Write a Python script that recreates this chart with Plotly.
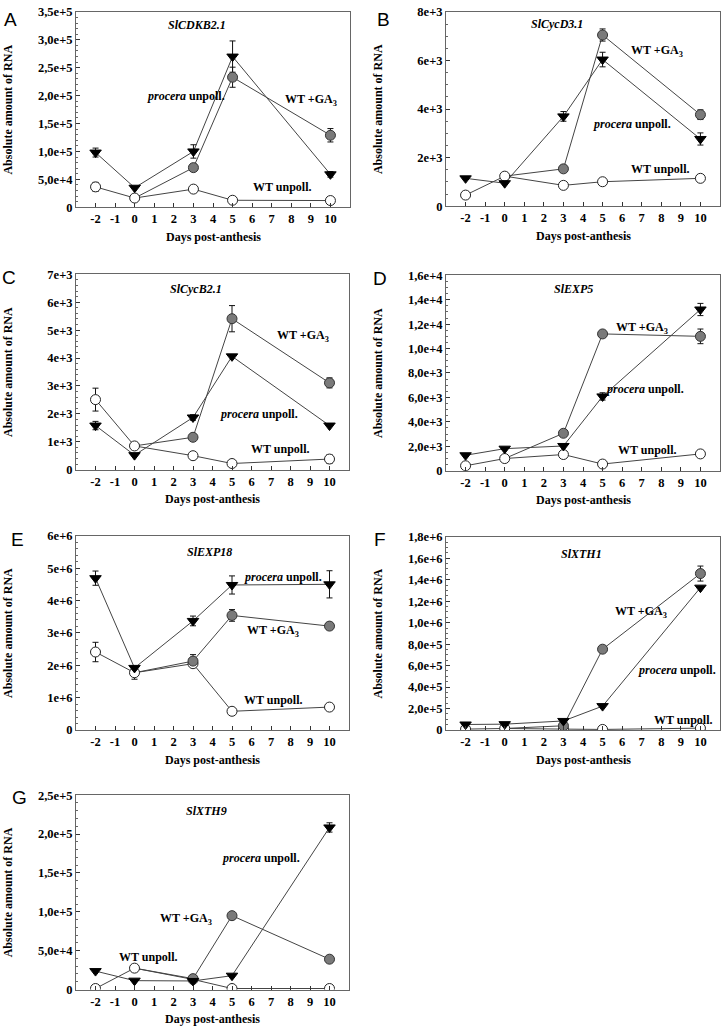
import plotly.graph_objects as go

W, H = 722, 1034

days = [-2, 0, 3, 5, 10]
x_ticks = list(range(-2, 11))
x_ticktext = [str(v) for v in x_ticks]

# ---- Panel data (procera unpoll., WT +GA3, WT unpoll.) ----
A_proc = [9.8e4, 3.5e4, 1.0e5, 2.70e5, 5.9e4]
A_proc_err = [8e3, None, 1.2e4, 2.8e4, 5e3]
A_ga3 = [None, 1.65e4, 7.1e4, 2.33e5, 1.29e5]
A_ga3_err = [None, None, 6e3, 1.8e4, 1.2e4]
A_wt = [3.65e4, 1.65e4, 3.25e4, 1.25e4, 1.2e4]
A_wt_err = [8e3, None, None, None, None]
A_yticks = [0, 5e4, 1e5, 1.5e5, 2e5, 2.5e5, 3e5, 3.5e5]
A_ytext = ["0", "5,0e+4", "1,0e+5", "1,5e+5", "2,0e+5", "2,5e+5", "3,0e+5", "3,5e+5"]

B_proc = [1.15e3, 0.95e3, 3.70e3, 6.04e3, 2.77e3]
B_proc_err = [None, None, 2e2, 3e2, 2.5e2]
B_ga3 = [None, 1.24e3, 1.54e3, 7.05e3, 3.77e3]
B_ga3_err = [None, None, None, 2.5e2, 2e2]
B_wt = [0.46e3, 1.24e3, 0.86e3, 1.01e3, 1.15e3]
B_wt_err = [None, None, None, None, 1.2e2]
B_yticks = [0, 2e3, 4e3, 6e3, 8e3]
B_ytext = ["0", "2e+3", "4e+3", "6e+3", "8e+3"]

C_proc = [1.58e3, 0.52e3, 1.87e3, 4.06e3, 1.58e3]
C_proc_err = [1.5e2, None, 1e2, None, None]
C_ga3 = [None, 0.85e3, 1.16e3, 5.41e3, 3.11e3]
C_ga3_err = [None, None, 1e2, 4.7e2, 1.8e2]
C_wt = [2.51e3, 0.85e3, 0.50e3, 0.22e3, 0.38e3]
C_wt_err = [4.1e2, None, 1.2e2, None, 1.5e2]
C_yticks = [0, 1e3, 2e3, 3e3, 4e3, 5e3, 6e3, 7e3]
C_ytext = ["0", "1e+3", "2e+3", "3e+3", "4e+3", "5e+3", "6e+3", "7e+3"]

D_proc = [1.26e3, 1.80e3, 2.02e3, 6.08e3, 13.2e3]
D_proc_err = [None, None, None, 3e2, 5e2]
D_ga3 = [None, 0.99e3, 3.06e3, 11.2e3, 11.0e3]
D_ga3_err = [None, None, None, None, 6e2]
D_wt = [0.40e3, 0.99e3, 1.32e3, 0.54e3, 1.37e3]
D_wt_err = [None, None, None, None, None]
D_yticks = [0, 2e3, 4e3, 6e3, 8e3, 1e4, 1.2e4, 1.4e4, 1.6e4]
D_ytext = ["0", "2,0e+3", "4,0e+3", "6,0e+3", "8,0e+3", "1,0e+4", "1,2e+4", "1,4e+4", "1,6e+4"]

E_proc = [4.69e6, 1.92e6, 3.37e6, 4.48e6, 4.50e6]
E_proc_err = [2.2e5, None, 1.5e5, 2.8e5, 4.2e5]
E_ga3 = [None, 1.77e6, 2.13e6, 3.54e6, 3.21e6]
E_ga3_err = [None, None, 2e5, 1.8e5, None]
E_wt = [2.41e6, 1.77e6, 2.05e6, 0.58e6, 0.71e6]
E_wt_err = [3e5, 2e5, None, None, None]
E_yticks = [0, 1e6, 2e6, 3e6, 4e6, 5e6, 6e6]
E_ytext = ["0", "1e+6", "2e+6", "3e+6", "4e+6", "5e+6", "6e+6"]

F_proc = [5.2e4, 5.5e4, 8.5e4, 2.23e5, 1.326e6]
F_proc_err = [None, None, None, None, None]
F_ga3 = [None, 1.5e4, 4.0e4, 7.53e5, 1.457e6]
F_ga3_err = [None, None, None, None, 7e4]
F_wt = [9e3, 1.5e4, 9e3, 6e3, 1.8e4]
F_wt_err = [None, None, None, None, None]
F_yticks = [0, 2e5, 4e5, 6e5, 8e5, 1e6, 1.2e6, 1.4e6, 1.6e6, 1.8e6]
F_ytext = ["0", "2,0e+5", "4,0e+5", "6,0e+5", "8,0e+5", "1,0e+6", "1,2e+6", "1,4e+6", "1,6e+6", "1,8e+6"]

G_proc = [2.37e4, 1.14e4, 1.10e4, 1.78e4, 2.085e5]
G_proc_err = [None, None, None, None, 6e3]
G_ga3 = [None, 2.75e4, 1.4e4, 9.5e4, 3.9e4]
G_ga3_err = [None, None, None, None, None]
G_wt = [1.3e3, 2.75e4, 1.3e4, 1.3e3, 1.3e3]
G_wt_err = [None, None, None, None, None]
G_yticks = [0, 5e4, 1e5, 1.5e5, 2e5, 2.5e5]
G_ytext = ["0", "5,0e+4", "1,0e+5", "1,5e+5", "2,0e+5", "2,5e+5"]

genes = ["SlCDKB2.1", "SlCycD3.1", "SlCycB2.1", "SlEXP5", "SlEXP18", "SlXTH1", "SlXTH9"]
letters = ["A", "B", "C", "D", "E", "F", "G"]

# ---- layout geometry (pixels) ----
panels = [
    dict(L=76, R=350, T=5, B=203, data=(A_proc, A_proc_err, A_ga3, A_ga3_err, A_wt, A_wt_err),
         yt=(A_yticks, A_ytext), minor=1e4, letter=(10, 13),
         lab=dict(gene=(3.2, 3.26e5), proc=(2.6, 2.0e5), ga3=(9.0, 1.92e5), wt=(7.5, 0.36e5))),
    dict(L=446, R=720, T=5, B=202, data=(B_proc, B_proc_err, B_ga3, B_ga3_err, B_wt, B_wt_err),
         yt=(B_yticks, B_ytext), minor=5e2, letter=(383, 13),
         lab=dict(gene=(2.66, 7.5e3), proc=(6.5, 3.38e3), ga3=(7.76, 6.38e3), wt=(7.93, 1.55e3))),
    dict(L=76, R=349, T=271, B=469, data=(C_proc, C_proc_err, C_ga3, C_ga3_err, C_wt, C_wt_err),
         yt=(C_yticks, C_ytext), minor=2e2, letter=(9, 274),
         lab=dict(gene=(3.14, 6.47e3), proc=(6.4, 1.99e3), ga3=(8.64, 4.79e3), wt=(7.44, 0.73e3))),
    dict(L=446, R=720, T=272, B=470, data=(D_proc, D_proc_err, D_ga3, D_ga3_err, D_wt, D_wt_err),
         yt=(D_yticks, D_ytext), minor=5e2, letter=(380, 275),
         lab=dict(gene=(3.5, 14.87e3), proc=(7.17, 6.72e3), ga3=(7.0, 11.7e3), wt=(7.25, 1.69e3))),
    dict(L=76, R=349, T=536, B=733, data=(E_proc, E_proc_err, E_ga3, E_ga3_err, E_wt, E_wt_err),
         yt=(E_yticks, E_ytext), minor=2e5, letter=(17, 540),
         lab=dict(gene=(3.85, 5.49e6), proc=(7.6, 4.73e6), ga3=(7.1, 3.07e6), wt=(7.1, 0.94e6))),
    dict(L=446, R=720, T=537, B=733, data=(F_proc, F_proc_err, F_ga3, F_ga3_err, F_wt, F_wt_err),
         yt=(F_yticks, F_ytext), minor=5e4, letter=(380, 540),
         lab=dict(gene=(3.94, 1.64e6), proc=(8.78, 5.6e5), ga3=(6.96, 1.10e6), wt=(9.12, 0.98e5))),
    dict(L=76, R=349, T=799, B=996, data=(G_proc, G_proc_err, G_ga3, G_ga3_err, G_wt, G_wt_err),
         yt=(G_yticks, G_ytext), minor=1e4, letter=(19, 801),
         lab=dict(gene=(3.68, 2.30e5), proc=(6.5, 1.69e5), ga3=(2.66, 9.1e4), wt=(0.7, 4.2e4))),
]

FONT = "Liberation Serif, Times New Roman, Times, serif"
LINE_C = "#444444"
AX_C = "#666666"

fig = go.Figure()
annotations = []
layout = {}


def px2x(p):
    return p / W


def px2y(p):
    return 1 - p / H


err_style = dict(type="data", symmetric=True, color="#111111", thickness=1, width=3)

for i, p in enumerate(panels):
    n = "" if i == 0 else str(i + 1)
    xa, ya = "x" + n, "y" + n
    proc, proc_e, ga3, ga3_e, wt, wt_e = p["data"]
    ymax = p["yt"][0][-1]

    # connecting lines
    for ys in (wt, ga3, proc):
        fig.add_trace(go.Scatter(x=days, y=ys, mode="lines", xaxis=xa, yaxis=ya,
                                 line=dict(color=LINE_C, width=1), showlegend=False,
                                 hoverinfo="skip"))
    # error bars only where a value exists
    for ys, es in ((wt, wt_e), (ga3, ga3_e), (proc, proc_e)):
        idx = [k for k, e in enumerate(es) if e is not None]
        if not idx:
            continue
        fig.add_trace(go.Scatter(x=[days[k] for k in idx], y=[ys[k] for k in idx],
                                 mode="markers", xaxis=xa, yaxis=ya,
                                 marker=dict(size=1, opacity=0),
                                 error_y=dict(array=[es[k] for k in idx], **err_style),
                                 showlegend=False, hoverinfo="skip"))
    # markers
    fig.add_trace(go.Scatter(x=days, y=wt, mode="markers", xaxis=xa, yaxis=ya,
                             marker=dict(symbol="circle", size=10, color="white",
                                         line=dict(color="#222222", width=1)),
                             showlegend=False))
    ga3_idx = [k for k, d in enumerate(days) if d != 0 and ga3[k] is not None]
    fig.add_trace(go.Scatter(x=[days[k] for k in ga3_idx], y=[ga3[k] for k in ga3_idx],
                             mode="markers", xaxis=xa, yaxis=ya,
                             marker=dict(symbol="circle", size=10, color="#7a7a7a",
                                         line=dict(color="#333333", width=1)),
                             showlegend=False))
    fig.add_trace(go.Scatter(x=days, y=proc, mode="markers", xaxis=xa, yaxis=ya,
                             marker=dict(symbol="triangle-down", size=10, color="black",
                                         line=dict(color="black", width=1)),
                             showlegend=False))

    key = "" if i == 0 else str(i + 1)
    tf = dict(family=FONT, size=12.5, color="black", weight="bold")
    layout["xaxis" + key] = dict(
        domain=[px2x(p["L"]), px2x(p["R"])], anchor=ya, range=[-3, 11],
        tickvals=x_ticks, ticktext=x_ticktext, ticks="inside", ticklen=4,
        tickcolor="#333", showline=True, linecolor=AX_C, linewidth=1, mirror=True,
        showgrid=False, zeroline=False, tickfont=tf)
    layout["yaxis" + key] = dict(
        domain=[px2y(p["B"]), px2y(p["T"])], anchor=xa, range=[0, ymax],
        tickvals=p["yt"][0], ticktext=p["yt"][1], ticks="inside", ticklen=4,
        tickcolor="#333", showline=True, linecolor=AX_C, linewidth=1, mirror=True,
        showgrid=False, zeroline=False,
        minor=dict(ticks="inside", ticklen=2, dtick=p["minor"], tick0=0, tickcolor="#666",
                   showgrid=False),
        tickfont=tf)

    lab = p["lab"]
    bf = dict(family=FONT, size=12, color="black")
    common = dict(showarrow=False, font=bf, xanchor="center", yanchor="middle")
    annotations.append(dict(x=lab["gene"][0], y=lab["gene"][1], xref=xa, yref=ya,
                            text="<b><i>%s</i></b>" % genes[i], **common))
    annotations.append(dict(x=lab["proc"][0], y=lab["proc"][1], xref=xa, yref=ya,
                            text="<b><i>procera</i> unpoll.</b>", **common))
    annotations.append(dict(x=lab["ga3"][0], y=lab["ga3"][1], xref=xa, yref=ya,
                            text="<b>WT +GA<sub>3</sub></b>", **common))
    annotations.append(dict(x=lab["wt"][0], y=lab["wt"][1], xref=xa, yref=ya,
                            text="<b>WT unpoll.</b>", **common))
    cx = (p["L"] + p["R"]) / 2
    annotations.append(dict(x=px2x(cx), y=px2y(p["B"] + 30), xref="paper", yref="paper",
                            text="<b>Days post-anthesis</b>", **common))
    cy = (p["T"] + p["B"]) / 2
    annotations.append(dict(x=px2x(p["L"] - 68), y=px2y(cy), xref="paper", yref="paper",
                            text="<b>Absolute amount of RNA</b>", textangle=-90, **common))
    annotations.append(dict(x=px2x(p["letter"][0]), y=px2y(p["letter"][1]),
                            xref="paper", yref="paper", text=letters[i], showarrow=False,
                            xanchor="center", yanchor="middle",
                            font=dict(family="Liberation Sans, Arial, sans-serif", size=19,
                                      color="black")))

fig.update_layout(
    width=W, height=H, margin=dict(l=0, r=0, t=0, b=0, pad=0),
    paper_bgcolor="white", plot_bgcolor="white", hovermode=False,
    annotations=annotations, **layout)

fig.write_html("out.html", config={"displayModeBar": False},
               post_script="document.body.style.margin='0';document.body.style.padding='0';")
